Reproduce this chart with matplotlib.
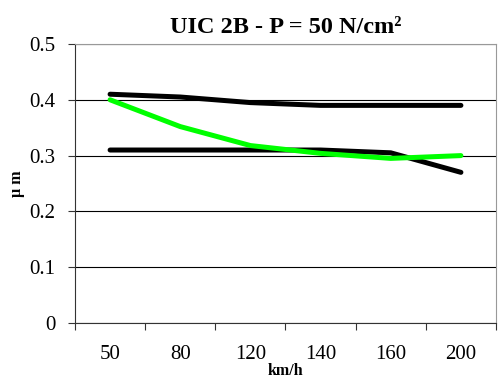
import numpy as np
import matplotlib.pyplot as plt

# data
speeds = ['50', '80', '120', '140', '160', '200']
upper_black = [0.41, 0.405, 0.395, 0.39, 0.39, 0.39]
lower_black = [0.31, 0.31, 0.31, 0.31, 0.305, 0.27]
green_line = [0.40, 0.352, 0.318, 0.304, 0.295, 0.30]

plt.rcParams['font.family'] = ['Liberation Serif', 'DejaVu Serif']

fig = plt.figure(figsize=(5.02, 3.8), dpi=100)
ax = fig.add_axes([75 / 502, 1 - 323 / 380, 421 / 502, 279 / 380])

x = np.arange(len(speeds))
ax.plot(x, upper_black, color='black', lw=3.6, solid_capstyle='round', zorder=3)
ax.plot(x, lower_black, color='black', lw=3.6, solid_capstyle='round', zorder=3)
ax.plot(x, green_line, color='#00ff00', lw=3.6, solid_capstyle='round', zorder=4)

ax.set_xlim(-0.5, len(speeds) - 0.5)
ax.set_ylim(0, 0.5)
ax.set_yticks([0, 0.1, 0.2, 0.3, 0.4, 0.5])
ax.set_yticklabels(['0', '0.1', '0.2', '0.3', '0.4', '0.5'])
ax.yaxis.grid(True, color='black', lw=0.8)
ax.set_axisbelow(True)

ax.set_xticks(x)
ax.set_xticklabels(speeds)
ax.set_xticks(np.arange(-0.5, len(speeds)), minor=True)
ax.tick_params(axis='x', which='major', length=0, labelsize=15, pad=16)
ax.tick_params(axis='x', which='minor', length=5, width=0.8, color='#333333')
ax.tick_params(axis='y', length=5, width=0.8, labelsize=15, pad=9, color='#333333')

for side in ['top', 'right']:
    ax.spines[side].set_color('#999999')
for side in ['left', 'bottom']:
    ax.spines[side].set_color('#333333')

ax.set_title('UIC 2B - P = 50 N/cm²', fontsize=17.5, fontweight='bold', pad=8)
ax.set_xlabel('km/h', fontsize=11.5, fontweight='bold', labelpad=-1)
ax.set_ylabel('µ m', fontsize=11.5, fontweight='bold', labelpad=3)

fig.savefig('out.png', dpi=100)
